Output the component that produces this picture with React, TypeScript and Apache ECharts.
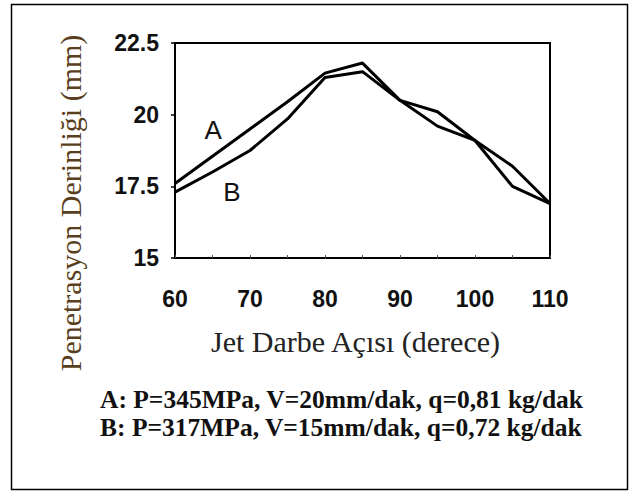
import React, { useEffect, useRef } from "react";
import * as echarts from "echarts";

const angles = [60, 65, 70, 75, 80, 85, 90, 95, 100, 105, 110];
const seriesA = [17.6, 18.55, 19.5, 20.45, 21.45, 21.8, 20.5, 20.1, 19.1, 18.2, 16.9];
const seriesB = [17.3, 18.0, 18.75, 19.85, 21.3, 21.5, 20.5, 19.6, 19.1, 17.5, 16.9];
const seriesNames = ["A", "B"];
const labelPosA = [65.1, 19.47];
const labelPosB = [67.6, 17.3];
const xTitle = "Jet Darbe Açısı (derece)";
const yTitle = "Penetrasyon Derinliği (mm)";
const legendLines = [
  "A: P=345MPa, V=20mm/dak, q=0,81 kg/dak",
  "B: P=317MPa, V=15mm/dak, q=0,72 kg/dak",
];

export default function App() {
  const ref = useRef<HTMLDivElement>(null);
  useEffect(() => {
    if (!ref.current) return;
    const chart = echarts.init(ref.current, undefined, { renderer: "svg" });
    const tickFont = { fontFamily: "Liberation Sans", fontSize: 23, fontWeight: "bold" as const, color: "#111" };
    const mk = (vals: number[], name: string, pos: number[]) => ({
      type: "line",
      name,
      data: angles.map((a, i) => [a, vals[i]]),
      symbol: "none",
      lineStyle: { color: "#000", width: 3 },
      markPoint: {
        symbol: "circle",
        symbolSize: 0,
        data: [{ coord: pos, name }],
        label: { show: true, position: "inside", formatter: name, fontFamily: "Liberation Sans", fontSize: 26, color: "#111" },
      },
    });
    chart.setOption({
      animation: false,
      backgroundColor: "#fff",
      grid: {
        left: 175, top: 43, width: 375, height: 215, show: true, borderColor: "#000", borderWidth: 2,
        backgroundColor: "transparent", containLabel: false, outerBoundsMode: "none",
      },
      xAxis: {
        type: "value",
        min: 60,
        max: 110,
        interval: 10,
        name: xTitle,
        nameLocation: "middle",
        nameGap: 68,
        nameTextStyle: { fontFamily: "Liberation Serif", fontSize: 30, color: "#222", padding: [0, 14, 0, 0] },
        axisLine: { show: true, lineStyle: { color: "#000", width: 2 } },
        axisTick: { show: true, inside: true, length: 3, lineStyle: { color: "#555" } },
        minorTick: { show: true, splitNumber: 2, length: 3, lineStyle: { color: "#555" } },
        splitLine: { show: false },
        axisLabel: { ...tickFont, margin: 29 },
      },
      yAxis: {
        type: "value",
        min: 15,
        max: 22.5,
        interval: 2.5,
        axisLine: { show: true, lineStyle: { color: "#000", width: 2 } },
        axisTick: { show: true, inside: false, length: 4, lineStyle: { color: "#000", width: 1.5 } },
        splitLine: { show: false },
        axisLabel: { ...tickFont, margin: 16, formatter: (v: number) => String(v) },
      },
      series: [mk(seriesA, seriesNames[0], labelPosA), mk(seriesB, seriesNames[1], labelPosB)],
      graphic: [
        { type: "rect", shape: { x: 11.5, y: 4.5, width: 616, height: 485 }, style: { fill: "none", stroke: "#000", lineWidth: 1.5 }, silent: true },
        {
          type: "text",
          x: 70,
          y: 203,
          rotation: Math.PI / 2,
          style: { text: yTitle, font: "30px 'Liberation Serif'", fill: "#5a3f1e", align: "center", verticalAlign: "middle" },
        },
        ...legendLines.map((t, i) => ({
          type: "text",
          x: 100,
          y: 399 + i * 28.5,
          style: { text: t, font: "bold 25.5px 'Liberation Serif'", fill: "#111", verticalAlign: "middle" },
        })),
      ],
    });
    return () => chart.dispose();
  }, []);
  return <div ref={ref} style={{ position: "fixed", left: 0, top: 0, width: 638, height: 493 }} />;
}
